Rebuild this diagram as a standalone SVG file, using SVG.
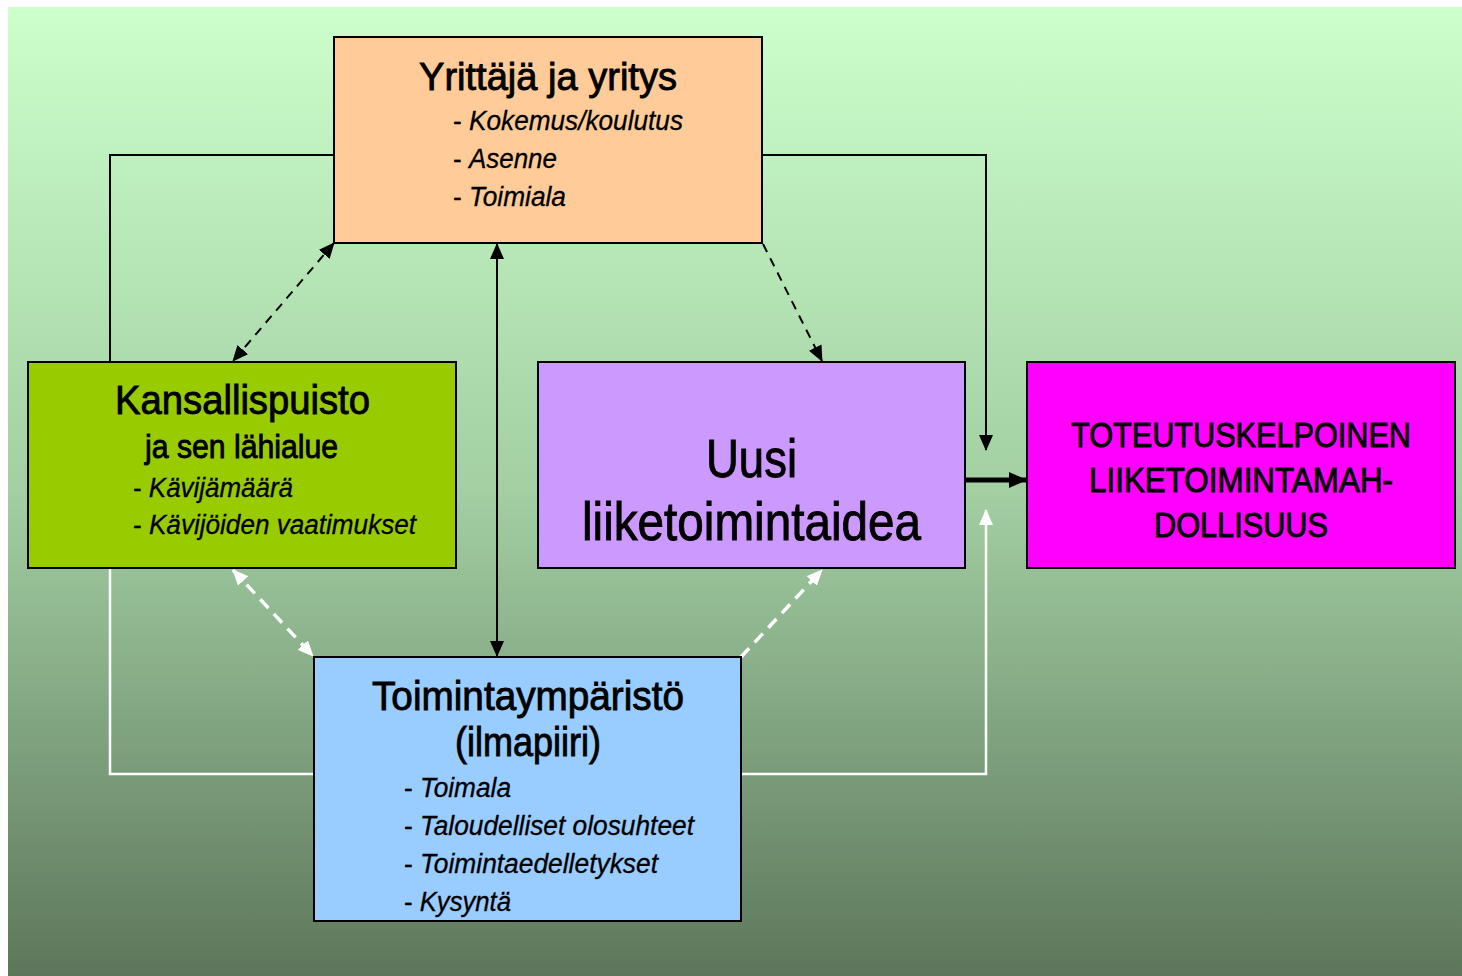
<svg xmlns="http://www.w3.org/2000/svg" width="1462" height="976" viewBox="0 0 1462 976">
<defs>
<linearGradient id="bg" x1="0" y1="0" x2="0" y2="1">
<stop offset="0" stop-color="#CCFFCC"/>
<stop offset="0.5" stop-color="#A3CFA3"/>
<stop offset="1" stop-color="#5D765B"/>
</linearGradient>
<marker id="ab" markerUnits="userSpaceOnUse" markerWidth="16" markerHeight="14" refX="15" refY="7" orient="auto-start-reverse" viewBox="0 0 16 14"><path d="M0,0 L16,7 L0,14 Z" fill="#000"/></marker>
<marker id="aw" markerUnits="userSpaceOnUse" markerWidth="16" markerHeight="14" refX="15" refY="7" orient="auto-start-reverse" viewBox="0 0 16 14"><path d="M0,0 L16,7 L0,14 Z" fill="#fff"/></marker>
<marker id="abig" markerUnits="userSpaceOnUse" markerWidth="18" markerHeight="16" refX="17" refY="8" orient="auto" viewBox="0 0 18 16"><path d="M0,0 L18,8 L0,16 Z" fill="#000"/></marker>
</defs>
<style>
.box{stroke:#000;stroke-width:2}
text{font-family:"Liberation Sans Narrow","Liberation Sans",Arial,sans-serif;fill:#000}
.t{stroke:#000;stroke-width:0.9}
.it{font-style:italic}
.item{font-size:27px;stroke:#000;stroke-width:0.3}
.blk{stroke:#000;stroke-width:2;fill:none}
.wht{stroke:#fff;stroke-width:2.5;fill:none}
.dash{stroke-dasharray:9,7}
.wdash{stroke-dasharray:12,8;stroke-width:3.5}
</style>
<rect x="8" y="7" width="1454" height="969" fill="url(#bg)"/>
<g id="connectors">
<polyline class="blk" points="334,155 110,155 110,362"/>
<polyline class="blk" points="762,155 986,155 986,450" marker-end="url(#ab)"/>
<line class="blk" x1="965" y1="480" x2="1026" y2="480" style="stroke-width:5" marker-end="url(#abig)"/>
<polyline class="wht" points="110,568 110,774 314,774"/>
<polyline class="wht" points="741,774 986,774 986,510" marker-end="url(#aw)"/>
<line class="blk dash" x1="334" y1="243" x2="233" y2="361" marker-start="url(#ab)" marker-end="url(#ab)"/>
<line class="blk" x1="497" y1="244" x2="497" y2="656" marker-start="url(#ab)" marker-end="url(#ab)"/>
<line class="blk dash" x1="763" y1="244" x2="822" y2="361" marker-end="url(#ab)"/>
<line class="wht wdash" x1="233" y1="570" x2="313" y2="656" marker-start="url(#aw)" marker-end="url(#aw)"/>
<line class="wht wdash" x1="741" y1="657" x2="822" y2="570" marker-end="url(#aw)"/>
</g>
<g id="yrittaja">
<rect class="box" x="334" y="37" width="428" height="206" fill="#FFCC99"/>
<text class="t" x="419" y="90" font-size="39" textLength="258" lengthAdjust="spacingAndGlyphs">Yrittäjä ja yritys</text>
<text class="item" x="453" y="130" textLength="230" lengthAdjust="spacingAndGlyphs">- <tspan class="it">Kokemus/koulutus</tspan></text>
<text class="item" x="453" y="168" textLength="104" lengthAdjust="spacingAndGlyphs">- <tspan class="it">Asenne</tspan></text>
<text class="item" x="453" y="206" textLength="113" lengthAdjust="spacingAndGlyphs">- <tspan class="it">Toimiala</tspan></text>
</g>
<g id="kansallispuisto">
<rect class="box" x="28" y="362" width="428" height="206" fill="#99CC00"/>
<text class="t" x="115" y="414" font-size="41" textLength="255" lengthAdjust="spacingAndGlyphs">Kansallispuisto</text>
<text class="t" x="145" y="458" font-size="34" textLength="193" lengthAdjust="spacingAndGlyphs">ja sen lähialue</text>
<text class="item" x="133" y="497" textLength="160" lengthAdjust="spacingAndGlyphs">- <tspan class="it">Kävijämäärä</tspan></text>
<text class="item" x="133" y="534" textLength="283" lengthAdjust="spacingAndGlyphs">- <tspan class="it">Kävijöiden vaatimukset</tspan></text>
</g>
<g id="uusi">
<rect class="box" x="538" y="362" width="427" height="206" fill="#CC99FF"/>
<text class="t" x="706" y="477" font-size="54" textLength="91" lengthAdjust="spacingAndGlyphs">Uusi</text>
<text class="t" x="582" y="540" font-size="54" textLength="339" lengthAdjust="spacingAndGlyphs">liiketoimintaidea</text>
</g>
<g id="toteutus">
<rect class="box" x="1027" y="362" width="428" height="206" fill="#FF00FF"/>
<text class="t" x="1071" y="447" font-size="35" textLength="340" lengthAdjust="spacingAndGlyphs">TOTEUTUSKELPOINEN</text>
<text class="t" x="1089" y="492" font-size="35" textLength="304" lengthAdjust="spacingAndGlyphs">LIIKETOIMINTAMAH-</text>
<text class="t" x="1154" y="537" font-size="35" textLength="174" lengthAdjust="spacingAndGlyphs">DOLLISUUS</text>
</g>
<g id="toimintaymparisto">
<rect class="box" x="314" y="657" width="427" height="264" fill="#99CCFF"/>
<text class="t" x="372" y="710" font-size="41" textLength="312" lengthAdjust="spacingAndGlyphs">Toimintaympäristö</text>
<text class="t" x="455" y="756" font-size="41" textLength="146" lengthAdjust="spacingAndGlyphs">(ilmapiiri)</text>
<text class="item" x="404" y="797" textLength="107" lengthAdjust="spacingAndGlyphs">- <tspan class="it">Toimala</tspan></text>
<text class="item" x="404" y="835" textLength="290" lengthAdjust="spacingAndGlyphs">- <tspan class="it">Taloudelliset olosuhteet</tspan></text>
<text class="item" x="404" y="873" textLength="254" lengthAdjust="spacingAndGlyphs">- <tspan class="it">Toimintaedelletykset</tspan></text>
<text class="item" x="404" y="911" textLength="107" lengthAdjust="spacingAndGlyphs">- <tspan class="it">Kysyntä</tspan></text>
</g>
</svg>
